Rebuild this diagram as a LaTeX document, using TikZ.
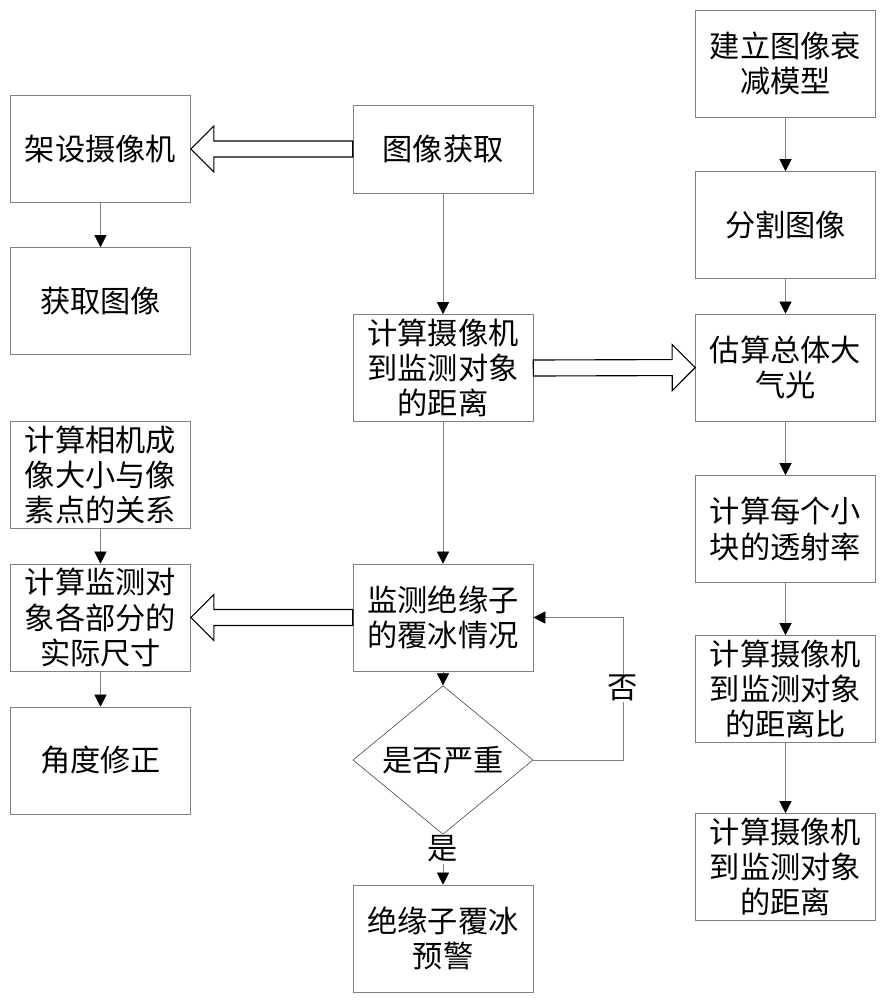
\documentclass[tikz,border=0pt]{standalone}
\usepackage{fontspec}
\newfontfamily\cjk{Noto Sans CJK SC}
\usetikzlibrary{arrows.meta,calc,shapes.geometric}
\tikzset{
  txt/.style={font=\cjk\fontsize{21.5}{25}\selectfont, text=black},
  box/.style={txt, draw=black!50, minimum width=4.5cm, minimum height=2.675cm, align=center, inner sep=0pt},
  decision/.style={txt, draw=black!75, diamond, minimum width=4.5cm, minimum height=2.625cm, inner sep=0pt},
  lbl/.style={txt, fill=white, inner sep=1pt},
  flow/.style={draw=black!50, -{Triangle[length=0.3cm,width=0.3cm,color=black]}},
  hollow/.style={draw=black, line width=0.8pt, fill=white, line join=miter}
}
% hollow block arrow from #1 to #2
\newcommand\fatarrow[2]{%
  \draw[hollow] ($(#1)!0.2cm!90:(#2)$)
    -- ($(#2)!0.575cm!(#1)!0.2cm!-90:(#1)$)
    -- ($(#2)!0.575cm!(#1)!0.575cm!-90:(#1)$)
    -- (#2)
    -- ($(#2)!0.575cm!(#1)!0.575cm!90:(#1)$)
    -- ($(#2)!0.575cm!(#1)!0.2cm!90:(#1)$)
    -- ($(#1)!0.2cm!-90:(#2)$) -- cycle;}

\begin{document}
\begin{tikzpicture}[x=0.025cm,y=-0.025cm]
  \useasboundingbox (0,0) rectangle (887,1000);
  % left column
  \node[box] (cam)      at (100.5,149)   {架设摄像机};
  \node[box] (getimg)   at (100.5,301)   {获取图像};
  \node[box] (relation) at (100.5,475)   {计算相机成\\像大小与像\\素点的关系};
  \node[box] (size)     at (100.5,617.5) {计算监测对\\象各部分的\\实际尺寸};
  \node[box] (angle)    at (100.5,760.5) {角度修正};
  % middle column
  \node[box, minimum height=2.2cm] (acquire) at (443,149) {图像获取};
  \node[box] (dist)     at (443,368)     {计算摄像机\\到监测对象\\的距离};
  \node[box] (monitor)  at (443,617.5)   {监测绝缘子\\的覆冰情况};
  \node[decision] (decide) at (443,760)  {是否严重};
  \node[box] (warn)     at (443,938.5)   {绝缘子覆冰\\预警};
  % right column
  \node[box] (model)    at (785.5,63.5)  {建立图像衰\\减模型};
  \node[box] (split)    at (785.5,225)   {分割图像};
  \node[box] (light)    at (785.5,367.5) {估算总体大\\气光};
  \node[box] (trans)    at (785.5,529)   {计算每个小\\块的透射率};
  \node[box] (ratio)    at (785.5,689)   {计算摄像机\\到监测对象\\的距离比};
  \node[box] (rdist)    at (785.5,867)   {计算摄像机\\到监测对象\\的距离};

  % thin arrows
  \draw[flow] (cam) -- (getimg);
  \draw[flow] (relation) -- (size);
  \draw[flow] (size) -- (angle);
  \draw[flow] (acquire) -- (dist);
  \draw[flow] (dist) -- (monitor);
  \draw[flow] (monitor) -- (decide);
  \draw[flow] (decide) -- (warn);
  \draw[flow] (model) -- (split);
  \draw[flow] (split) -- (light);
  \draw[flow] (light) -- (trans);
  \draw[flow] (trans) -- (ratio);
  \draw[flow] (ratio) -- (rdist);
  \coordinate (back) at (623,760);
  \draw[flow] (decide.east) -- (back) |- (monitor.east);
  \node[lbl] (no)  at (623,688) {否};
  \node[lbl] (yes) at (443,849) {是};

  % block arrows
  \fatarrow{acquire.west}{cam.east}
  \fatarrow{dist.east}{light.west}
  \fatarrow{monitor.west}{size.east}
\end{tikzpicture}
\end{document}
